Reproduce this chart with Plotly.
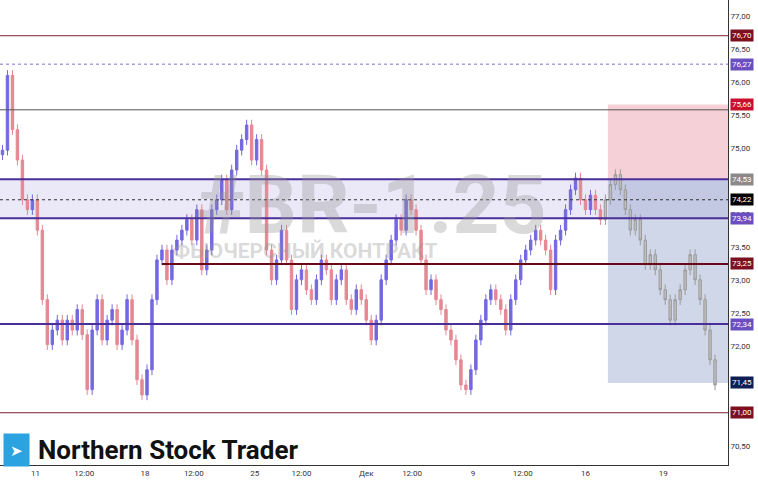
import plotly.graph_objects as go

# closes, one candle every step (history then projected path)
hist_close = [74.97, 76.10, 75.28, 74.82, 74.22, 74.07, 74.22, 73.76, 72.71, 72.03,
              72.25, 72.40, 72.10, 72.40, 72.25, 72.56, 72.18, 71.35, 72.25, 72.71,
              72.10, 72.40, 72.56, 72.03, 72.25, 72.71, 72.10, 71.50, 71.27, 71.65,
              72.71, 73.31, 73.46, 73.01, 73.46, 73.61, 73.76, 73.92, 73.61, 74.07,
              73.16, 73.46, 74.07, 74.22, 74.52, 74.07, 74.67, 74.97, 75.13, 75.35,
              74.82, 75.13, 74.67, 73.46, 73.01, 73.31, 73.76, 73.31, 72.56, 73.01,
              73.16, 72.86, 72.71, 73.01, 73.31, 73.16, 72.71, 73.01, 73.16, 72.71,
              72.56, 72.86, 72.71, 72.40, 72.10, 72.40, 73.01, 73.31, 73.61, 73.92,
              73.76, 74.22, 74.07, 73.76, 73.31, 72.86, 73.01, 72.71, 72.56, 72.25,
              72.10, 71.80, 71.42, 71.35, 71.65, 72.10, 72.40, 72.71, 72.86, 72.71,
              72.56, 72.25, 72.71, 73.01, 73.31, 73.46, 73.61, 73.76, 73.61, 73.46,
              72.86, 73.61, 73.76, 74.07, 74.37, 74.55, 74.22, 74.07, 74.29, 74.07,
              73.92]
proj_close = [74.22, 74.45, 74.60, 74.37, 74.07, 73.76, 73.92, 73.61, 73.24, 73.39,
              73.16, 72.86, 72.71, 72.40, 72.71, 72.86, 73.16, 73.39, 73.01, 72.71,
              72.25, 71.80, 71.42]
wick = 0.08

tick_pos = [6.6, 16.4, 28.6, 38.4, 50.6, 60, 73, 82.2, 94.4, 104.4, 117, 132.6]
tick_text = ["11", "12:00", "18", "12:00", "25", "12:00", "Дек", "12:00", "9", "12:00", "16", "19"]

levels = [(76.70, "#7a1020"), (76.27, "#6a4fc0"), (75.66, "#c8102e"), (74.53, "#8a8a8a"),
          (74.22, "#000000"), (73.94, "#6a4fc0"), (73.25, "#7a1020"), (72.34, "#6a4fc0"),
          (71.45, "#0d1f55"), (71.00, "#7a1020")]


def ohlc(closes, first_open):
    opens = [first_open] + closes[:-1]
    highs = [max(o, c) + wick for o, c in zip(opens, closes)]
    lows = [min(o, c) - wick for o, c in zip(opens, closes)]
    return opens, highs, lows, closes


n_hist = len(hist_close)
xh = list(range(n_hist))
xp = list(range(n_hist, n_hist + len(proj_close)))
o, h, l, c = ohlc(hist_close, 74.9)
op, hp, lp, cp = ohlc(proj_close, hist_close[-1])

fig = go.Figure()
fig.add_trace(go.Candlestick(x=xh, open=o, high=h, low=l, close=c,
                             increasing=dict(line=dict(color="#7468e0", width=1), fillcolor="#7468e0"),
                             decreasing=dict(line=dict(color="#e58893", width=1), fillcolor="#e58893"),
                             whiskerwidth=0, showlegend=False))
fig.add_trace(go.Candlestick(x=xp, open=op, high=hp, low=lp, close=cp,
                             increasing=dict(line=dict(color="#9c9c9c", width=1), fillcolor="#bdbdbd"),
                             decreasing=dict(line=dict(color="#9c9c9c", width=1), fillcolor="#bdbdbd"),
                             whiskerwidth=0, showlegend=False))

x0, x1 = -0.5, 145.6
xs = n_hist + 0.5
# zones
fig.add_shape(type="rect", x0=x0, x1=x1, y0=73.94, y1=74.53, fillcolor="rgba(120,100,210,0.15)", line_width=0, layer="below")
fig.add_shape(type="rect", x0=xs, x1=x1, y0=74.53, y1=75.66, fillcolor="rgba(232,150,165,0.45)", line_width=0, layer="below")
fig.add_shape(type="rect", x0=xs, x1=x1, y0=71.45, y1=74.53, fillcolor="rgba(120,140,190,0.35)", line_width=0, layer="below")
# lines
fig.add_shape(type="line", x0=x0, x1=x1, y0=76.70, y1=76.70, line=dict(color="#7a2030", width=1))
fig.add_shape(type="line", x0=x0, x1=x1, y0=76.27, y1=76.27, line=dict(color="#8070c8", width=1, dash="dot"))
fig.add_shape(type="line", x0=x0, x1=x1, y0=75.58, y1=75.58, line=dict(color="#555555", width=1))
fig.add_shape(type="line", x0=x0, x1=x1, y0=74.53, y1=74.53, line=dict(color="#4a2e9a", width=2))
fig.add_shape(type="line", x0=x0, x1=x1, y0=74.22, y1=74.22, line=dict(color="#333333", width=1, dash="dot"))
fig.add_shape(type="line", x0=x0, x1=x1, y0=73.94, y1=73.94, line=dict(color="#4a2e9a", width=2))
fig.add_shape(type="line", x0=32, x1=x1, y0=73.25, y1=73.25, line=dict(color="#6a0818", width=2))
fig.add_shape(type="line", x0=x0, x1=x1, y0=72.34, y1=72.34, line=dict(color="#4a2e9a", width=2))
fig.add_shape(type="line", x0=x0, x1=x1, y0=71.00, y1=71.00, line=dict(color="#7a2030", width=1))

for val, col in levels:
    fig.add_annotation(xref="paper", x=1.003, y=val, xanchor="left", showarrow=False,
                       text=f"{val:.2f}".replace(".", ","), bgcolor=col, borderpad=1,
                       font=dict(color="white", size=8, family="Roboto"))

# watermark
fig.add_annotation(xref="paper", yref="paper", x=0.51, y=0.56, showarrow=False, text="<b>#BR-1.25</b>",
                   font=dict(size=82, color="rgba(150,150,150,0.35)", family="Roboto"))
fig.add_annotation(xref="paper", yref="paper", x=0.42, y=0.46, showarrow=False, text="<b>ФЬЮЧЕРСНЫЙ КОНТРАКТ</b>",
                   font=dict(size=21, color="rgba(150,150,150,0.35)", family="Roboto"))
# logo
fig.add_annotation(xref="paper", yref="paper", x=0.004, y=0.033, xanchor="left", yanchor="middle",
                   showarrow=False, text="➤", bgcolor="#2aa3e0", borderpad=6, font=dict(size=15, color="white"))
fig.add_annotation(xref="paper", yref="paper", x=0.05, y=0.033, xanchor="left", yanchor="middle", showarrow=False,
                   text="<b>Northern Stock Trader</b>", font=dict(size=26, color="#111111", family="Roboto"))

fig.update_layout(
    width=758, height=483, margin=dict(l=0, r=30, t=0, b=18),
    paper_bgcolor="white", plot_bgcolor="white", separators=",.",
    xaxis=dict(range=[x0, x1], rangeslider=dict(visible=False), tickvals=tick_pos, ticktext=tick_text,
               showgrid=False, zeroline=False, showline=True, linecolor="#333333", mirror=False,
               ticks="", tickfont=dict(size=8, color="#333333", family="Roboto")),
    yaxis=dict(range=[70.21, 77.24], side="right", dtick=0.5, tickformat=".2f", showgrid=False,
               zeroline=False, showline=True, linecolor="#333333", ticks="",
               tickfont=dict(size=8, color="#333333", family="Roboto")),
)

fig.write_html("out.html", config={"displayModeBar": False},
               post_script="document.body.style.margin='0';")
